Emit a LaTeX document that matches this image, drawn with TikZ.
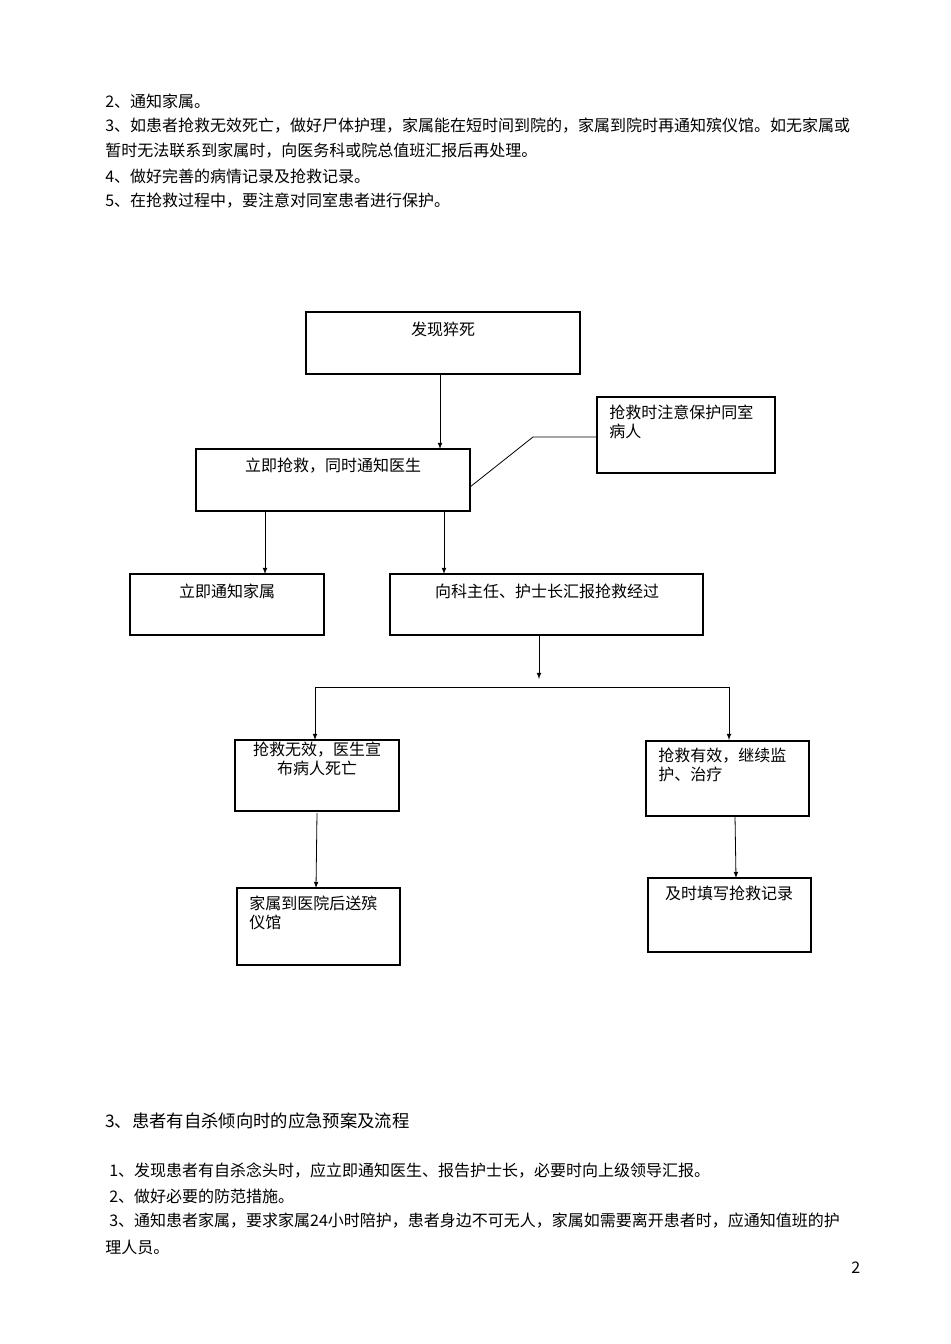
\documentclass[tikz,border=0pt]{standalone}
\usepackage{fontspec}
\setmainfont{Noto Sans CJK SC}
\begin{document}
\begin{tikzpicture}[x=0.75pt,y=-0.75pt,
  txt/.style={anchor=west,inner sep=0,font=\fontsize{12pt}{14pt}\selectfont},
  lab/.style={inner sep=0,font=\fontsize{12pt}{14pt}\selectfont,align=left},
  arr/.style={-latex,semithick}]
\useasboundingbox (0,0) rectangle (950,1344);
\node[txt] (t1) at (105,101) {2、通知家属。};
\node[txt] (t2) at (105,126) {3、如患者抢救无效死亡，做好尸体护理，家属能在短时间到院的，家属到院时再通知殡仪馆。如无家属或};
\node[txt] (t3) at (105,151) {暂时无法联系到家属时，向医务科或院总值班汇报后再处理。};
\node[txt] (t4) at (105,176) {4、做好完善的病情记录及抢救记录。};
\node[txt] (t5) at (105,201) {5、在抢救过程中，要注意对同室患者进行保护。};
% boxes
\draw[thick] (306,312) rectangle (580,374); \node[lab] (a) at (443,329) {发现猝死};
\draw[thick] (196,449) rectangle (470,511); \node[lab] (b) at (333,466) {立即抢救，同时通知医生};
\draw[thick] (597,397) rectangle (775,473); \node[lab,anchor=north west] (c) at (609,405) {抢救时注意保护同室\\病人};
\draw[thick] (130,574) rectangle (324,635); \node[lab] (d) at (227,591) {立即通知家属};
\draw[thick] (390,574) rectangle (703,635); \node[lab] (e) at (547,591) {向科主任、护士长汇报抢救经过};
\draw[thick] (235,740) rectangle (399,811); \node[lab,align=center,anchor=north] (f) at (317,742) {抢救无效，医生宣\\布病人死亡};
\draw[thick] (646,741) rectangle (809,816); \node[lab,anchor=north west] (g) at (658,748) {抢救有效，继续监\\护、治疗};
\draw[thick] (237,888) rectangle (400,965); \node[lab,anchor=north west] (h) at (249,896) {家属到医院后送殡\\仪馆};
\draw[thick] (648,878) rectangle (811,952); \node[lab] (i) at (729,893) {及时填写抢救记录};
% connectors
\coordinate (ab) at (440,374); \coordinate (ba) at (440,449);
\draw[arr] (ab) -- (ba);
\coordinate (bc) at (470,487); \coordinate (cm) at (533,437); \coordinate (cb) at (597,437);
\draw[semithick] (bc) -- (cm) -- (cb);
\draw[arr] (265,511) -- (265,574);
\draw[arr] (444,511) -- (444,574);
\draw[arr] (539,635) -- (539,679);
\draw[semithick] (315,687) -- (729,687);
\draw[arr] (315,687) -- (315,740);
\draw[arr] (729,687) -- (729,740);
\draw[arr] (317,813) -- (316,888);
\draw[arr] (735,816) -- (736,878);
% bottom text
\node[txt,font=\fontsize{13pt}{15pt}\selectfont] (h3) at (105,1121) {3、患者有自杀倾向时的应急预案及流程};
\node[txt] (s1) at (109,1170) {1、发现患者有自杀念头时，应立即通知医生、报告护士长，必要时向上级领导汇报。};
\node[txt] (s2) at (109,1196) {2、做好必要的防范措施。};
\node[txt] (s3) at (109,1221) {3、通知患者家属，要求家属24小时陪护，患者身边不可无人，家属如需要离开患者时，应通知值班的护};
\node[txt] (s4) at (105,1247) {理人员。};
\node[txt] (pg) at (851,1268) {2};
\end{tikzpicture}
\end{document}
